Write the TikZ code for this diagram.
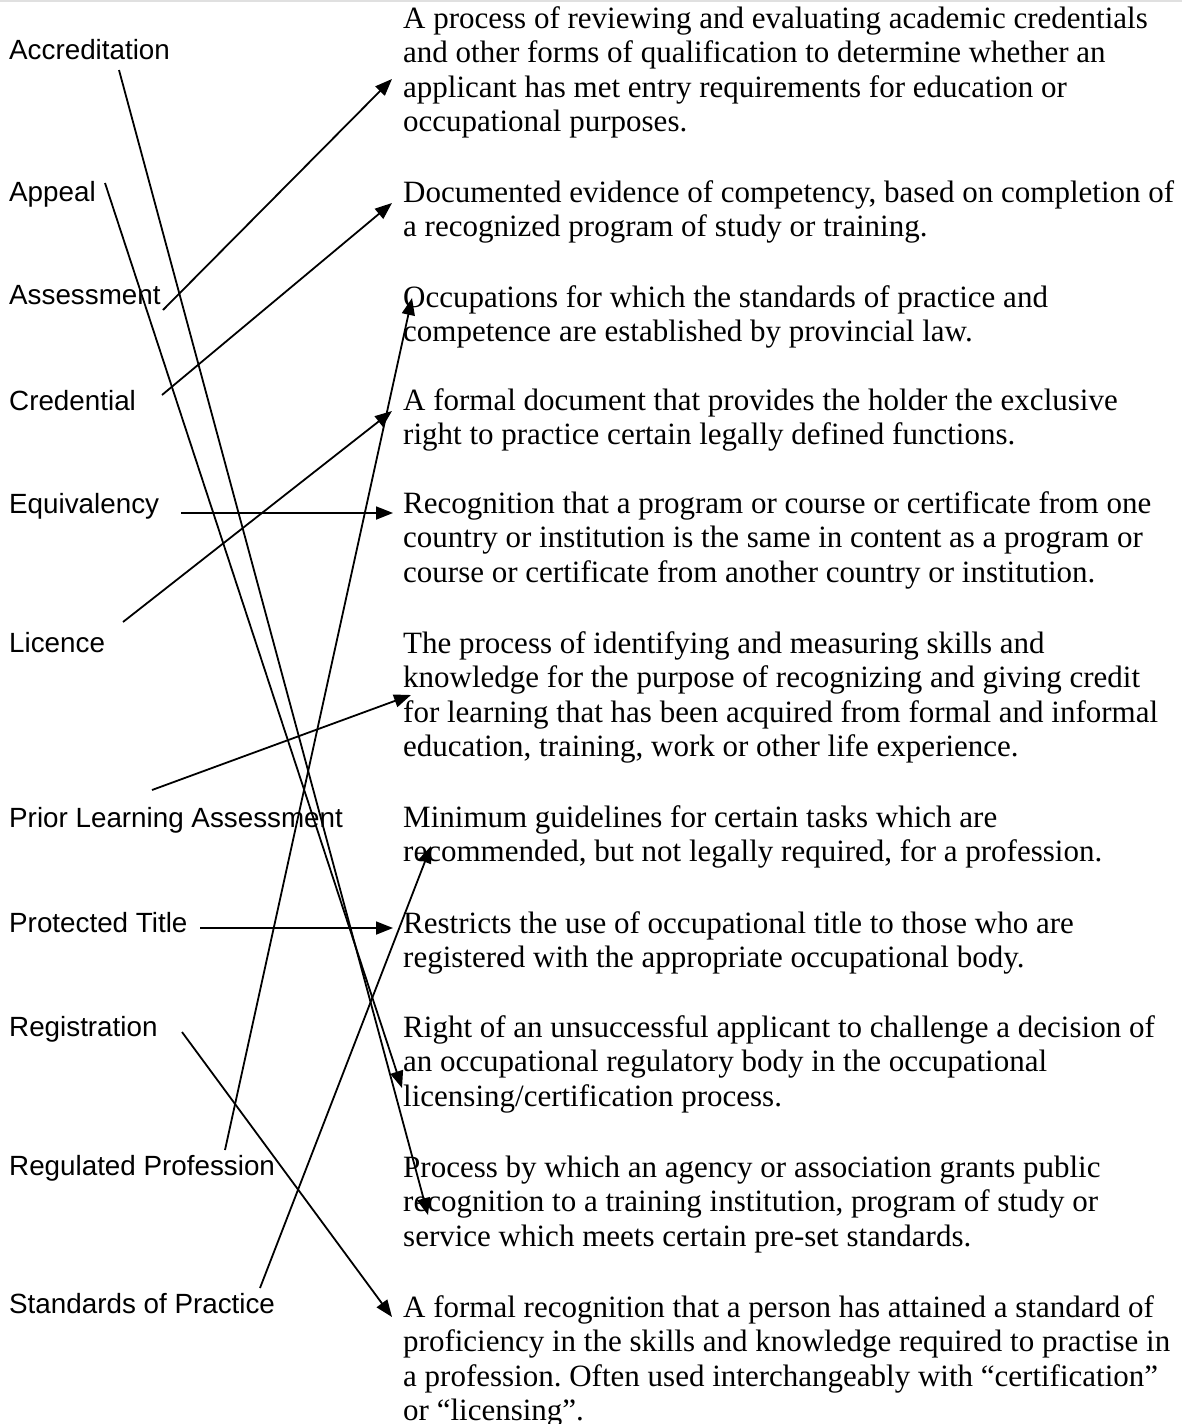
\documentclass[tikz,border=0pt]{standalone}
\usepackage{fontspec}
\setmainfont{Liberation Serif}
\newfontfamily\lsans{Liberation Sans}
\usetikzlibrary{arrows.meta}
\tikzset{
  term/.style={anchor=base west, inner sep=0pt, font=\lsans\fontsize{27.8pt}{33pt}\selectfont},
  defn/.style={anchor=base west, inner sep=0pt, font=\fontsize{31pt}{34.6pt}\selectfont},
  link/.style={line width=1.8pt, -{Triangle[length=17pt,width=13pt]}},
}
\newcommand\deflines[1]{\vtop{\frenchspacing\baselineskip=34.6pt\lineskiplimit=-100pt #1}}
\begin{document}
\begin{tikzpicture}[x=1pt,y=-1pt]
\fill[white] (0,0) rectangle (1182,1424);
\useasboundingbox (0,0) rectangle (1182,1424);
\draw[black!12, line width=2pt] (0,1) -- (1182,1);

% terms
\node[term] (a1) at (9,59.5) {Accreditation};
\node[term] (a2) at (9,201) {Appeal};
\node[term] (a3) at (9,304) {Assessment};
\node[term] (a4) at (9,410) {Credential};
\node[term] (a5) at (9,513) {Equivalency};
\node[term] (a6) at (9,652) {Licence};
\node[term] (a7) at (9,827) {Prior Learning Assessment};
\node[term] (a8) at (9,932) {Protected Title};
\node[term] (a9) at (9,1036) {Registration};
\node[term] (a10) at (9,1175) {Regulated Profession};
\node[term] (a11) at (9,1313) {Standards of Practice};

% definitions
\node[defn] (d1) at (403,28) {\deflines{%
\hbox{A process of reviewing and evaluating academic credentials}%
\hbox{and other forms of qualification to determine whether an}%
\hbox{applicant has met entry requirements for education or}%
\hbox{occupational purposes.}}};
\node[defn] (d2) at (403,202) {\deflines{%
\hbox{Documented evidence of competency, based on completion of}%
\hbox{a recognized program of study or training.}}};
\node[defn] (d3) at (403,307) {\deflines{%
\hbox{Occupations for which the standards of practice and}%
\hbox{competence are established by provincial law.}}};
\node[defn] (d4) at (403,410) {\deflines{%
\hbox{A formal document that provides the holder the exclusive}%
\hbox{right to practice certain legally defined functions.}}};
\node[defn] (d5) at (403,513) {\deflines{%
\hbox{Recognition that a program or course or certificate from one}%
\hbox{country or institution is the same in content as a program or}%
\hbox{course or certificate from another country or institution.}}};
\node[defn] (d6) at (403,653) {\deflines{%
\hbox{The process of identifying and measuring skills and}%
\hbox{knowledge for the purpose of recognizing and giving credit}%
\hbox{for learning that has been acquired from formal and informal}%
\hbox{education, training, work or other life experience.}}};
\node[defn] (d7) at (403,827) {\deflines{%
\hbox{Minimum guidelines for certain tasks which are}%
\hbox{recommended, but not legally required, for a profession.}}};
\node[defn] (d8) at (403,933) {\deflines{%
\hbox{Restricts the use of occupational title to those who are}%
\hbox{registered with the appropriate occupational body.}}};
\node[defn] (d9) at (403,1037) {\deflines{%
\hbox{Right of an unsuccessful applicant to challenge a decision of}%
\hbox{an occupational regulatory body in the occupational}%
\hbox{licensing/certification process.}}};
\node[defn] (d10) at (403,1177) {\deflines{%
\hbox{Process by which an agency or association grants public}%
\hbox{recognition to a training institution, program of study or}%
\hbox{service which meets certain pre-set standards.}}};
\node[defn] (d11) at (403,1317) {\deflines{%
\hbox{A formal recognition that a person has attained a standard of}%
\hbox{proficiency in the skills and knowledge required to practise in}%
\hbox{a profession. Often used interchangeably with “certification”}%
\hbox{or “licensing”.}}};

% connector ends
\coordinate (s1) at (119,70);   \coordinate (t1) at (428,1215);
\coordinate (s2) at (105,183);  \coordinate (t2) at (402,1088);
\coordinate (s3) at (163,310);  \coordinate (t3) at (392,79);
\coordinate (s4) at (162,395);  \coordinate (t4) at (392,203);
\coordinate (s5) at (181,513);  \coordinate (t5) at (393,513);
\coordinate (s6) at (123,622);  \coordinate (t6) at (392,411);
\coordinate (s7) at (152,790);  \coordinate (t7) at (411,695);
\coordinate (s8) at (200,928);  \coordinate (t8) at (393,928);
\coordinate (s9) at (182,1032); \coordinate (t9) at (392,1317);
\coordinate (s10) at (225,1150); \coordinate (t10) at (412,298);
\coordinate (s11) at (260,1288); \coordinate (t11) at (431,846);

\draw[link] (s1) -- (t1);
\draw[link] (s2) -- (t2);
\draw[link] (s3) -- (t3);
\draw[link] (s4) -- (t4);
\draw[link] (s5) -- (t5);
\draw[link] (s6) -- (t6);
\draw[link] (s7) -- (t7);
\draw[link] (s8) -- (t8);
\draw[link] (s9) -- (t9);
\draw[link] (s10) -- (t10);
\draw[link] (s11) -- (t11);
\end{tikzpicture}
\end{document}
